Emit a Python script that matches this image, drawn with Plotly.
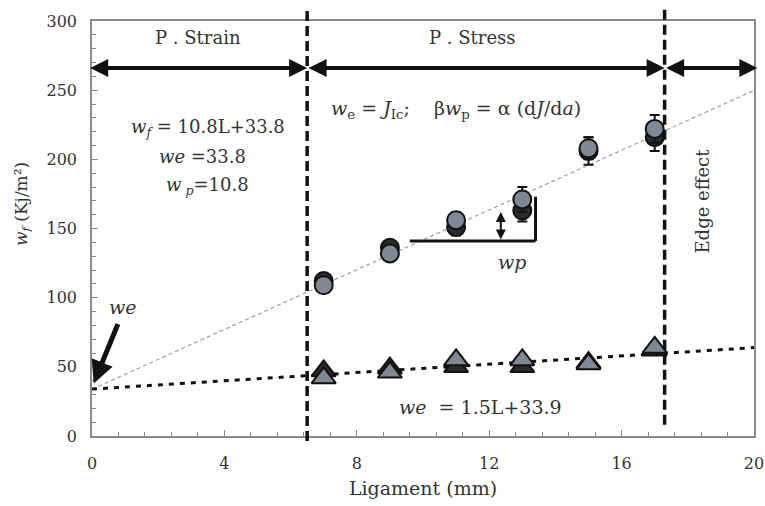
import plotly.graph_objects as go

# Ligament lengths (mm) of the tested specimens
ligament = [7, 9, 11, 13, 15, 17]

# Total work of fracture w_f (kJ/m^2), two specimen sets
wf_set_a = [112, 136, 151, 163, 206, 216]
wf_err_a = [4, 5, 6, 8, 10, 10]
wf_set_b = [109, 132, 156, 171, 208, 222]
wf_err_b = [4, 5, 6, 9, 8, 10]

# Essential work w_e (kJ/m^2), two specimen sets
we_set_a = [47, 49, 50, 50, 53, 62]
we_set_b = [42, 46, 55, 55, 52, 64]

# Linear fits
wf_slope, wf_intercept = 10.8, 33.8
we_slope, we_intercept = 1.5, 33.9
fit_x = [0, 20]

# Regime boundaries (mm)
strain_limit = 6.5
stress_limit = 17.3

FONT = "DejaVu Serif"
TEXT = "#333333"
GRAY_FILL = "#7f8994"
DARK_FILL = "#2b2b2b"

fig = go.Figure()

# fitted lines
fig.add_trace(go.Scatter(
    x=fit_x, y=[wf_slope * v + wf_intercept for v in fit_x], mode="lines",
    line=dict(color="#a0a0a0", width=1.2, dash="4px,3px"), showlegend=False))
fig.add_trace(go.Scatter(
    x=fit_x, y=[we_slope * v + we_intercept for v in fit_x], mode="lines",
    line=dict(color="#111111", width=3, dash="5px,6px"), showlegend=False))

# w_f data
fig.add_trace(go.Scatter(
    x=ligament, y=wf_set_a, mode="markers",
    error_y=dict(type="data", array=wf_err_a, color="#111", thickness=2, width=5),
    marker=dict(symbol="circle", size=18, color=DARK_FILL, line=dict(color="#111", width=2)),
    showlegend=False))
fig.add_trace(go.Scatter(
    x=ligament, y=wf_set_b, mode="markers",
    error_y=dict(type="data", array=wf_err_b, color="#111", thickness=2, width=5),
    marker=dict(symbol="circle", size=18, color=GRAY_FILL, line=dict(color="#111", width=2)),
    showlegend=False))

# w_e data
fig.add_trace(go.Scatter(
    x=ligament, y=we_set_a, mode="markers",
    marker=dict(symbol="triangle-up", size=21, color=DARK_FILL, line=dict(color="#111", width=2)),
    showlegend=False))
fig.add_trace(go.Scatter(
    x=ligament, y=we_set_b, mode="markers",
    marker=dict(symbol="triangle-up", size=21, color=GRAY_FILL, line=dict(color="#111", width=2)),
    showlegend=False))

# regime boundaries
fig.add_shape(type="line", xref="x", yref="paper", x0=strain_limit, x1=strain_limit,
              y0=-0.012, y1=1.035, line=dict(color="#111", width=3.5, dash="10px,5px"))
fig.add_shape(type="line", xref="x", yref="paper", x0=stress_limit, x1=stress_limit,
              y0=0.027, y1=1.035, line=dict(color="#111", width=3.5, dash="10px,5px"))

# w_p construction: step and small double arrow
fig.add_shape(type="line", xref="x", yref="y", x0=9.6, x1=13.4, y0=141, y1=141,
              line=dict(color="#111", width=3))
fig.add_shape(type="line", xref="x", yref="y", x0=13.4, x1=13.4, y0=141, y1=173,
              line=dict(color="#111", width=3))

annotations = []

# double arrows spanning each regime
arrow_y = 266
for x0, x1 in [(-0.1, strain_limit), (strain_limit, stress_limit), (stress_limit, 20.1)]:
    annotations.append(dict(
        x=x1, y=arrow_y, ax=x0, ay=arrow_y, xref="x", yref="y", axref="x", ayref="y",
        text="", showarrow=True, arrowside="end+start", arrowhead=2, arrowsize=0.9,
        arrowwidth=4, arrowcolor="#111"))

annotations.append(dict(
    x=12.35, y=162, ax=12.35, ay=141, xref="x", yref="y", axref="x", ayref="y",
    text="", showarrow=True, arrowside="end+start", arrowhead=2, arrowsize=1,
    arrowwidth=2, arrowcolor="#111"))

# arrow to the intercept
annotations.append(dict(
    x=0.05, y=38, ax=0.8, ay=82, xref="x", yref="y", axref="x", ayref="y",
    text="", showarrow=True, arrowhead=2, arrowsize=0.9, arrowwidth=5, arrowcolor="#111"))


def label(x, y, text, size=19, angle=0, xref="x", yref="y"):
    annotations.append(dict(
        x=x, y=y, xref=xref, yref=yref, text=text, showarrow=False, textangle=angle,
        font=dict(family=FONT, size=size, color=TEXT), xanchor="center", yanchor="middle"))


label(3.2, 288, "P . Strain", size=18)
label(11.5, 288, "P . Stress", size=18)
label(3.5, 223, "<i>w<sub>f</sub></i> = 10.8L+33.8", size=18)
label(3.35, 202, "<i>we</i> =33.8", size=18)
label(3.5, 181, "<i>w<sub> p</sub></i>=10.8", size=18)
label(11.0, 236, "<i>w</i><sub>e</sub> = <i>J</i><sub>Ic</sub>;    β<i>w</i><sub>p</sub> = α (d<i>J</i>/d<i>a</i>)")
label(12.7, 126, "<i>wp</i>")
label(0.95, 93, "<i>we</i>")
label(11.75, 21, "<i>we</i>  = 1.5L+33.9")
label(18.45, 170, "Edge effect", size=18, angle=-90)
label(-0.105, 0.56, "<i>w<sub>f</sub></i> (Kj/m²)", size=17, angle=-90, xref="paper", yref="paper")

axis_common = dict(
    showline=True, linecolor="#8a8a8a", linewidth=1.5, mirror=True,
    ticks="inside", ticklen=6, tickcolor="#8a8a8a", tickwidth=1.2,
    showgrid=False, zeroline=False, automargin=False, ticklabeloverflow="allow",
    tickfont=dict(family=FONT, size=16, color=TEXT),
)

fig.update_layout(
    width=765, height=506,
    margin=dict(l=92, r=11, t=21, b=70),
    paper_bgcolor="white", plot_bgcolor="white",
    font=dict(family=FONT, color=TEXT),
    showlegend=False,
    xaxis=dict(range=[0, 20], tickvals=[0, 4, 8, 12, 16, 20],
               minor=dict(dtick=0.8, ticks="inside", ticklen=4, tickcolor="#8a8a8a"),
               ticklabelstandoff=12,
               title=dict(text="Ligament (mm)", font=dict(family=FONT, size=19, color=TEXT),
                          standoff=10),
               **axis_common),
    yaxis=dict(range=[0, 300], dtick=50,
               minor=dict(dtick=10, ticks="inside", ticklen=4, tickcolor="#8a8a8a"),
               ticklabelstandoff=10,
               **axis_common),
    annotations=annotations,
)

fig.write_html("out.html")
